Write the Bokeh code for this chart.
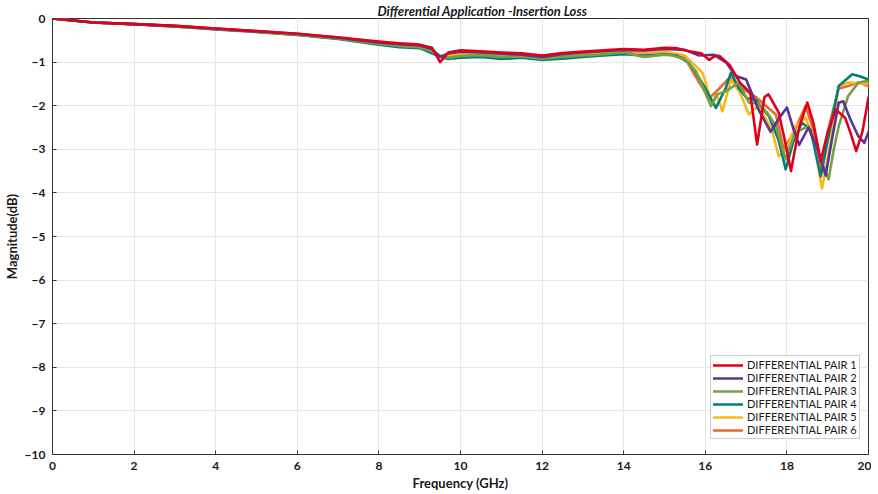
from bokeh.plotting import figure
from bokeh.models import Range1d, Legend, LegendItem, SingleIntervalTicker
from bokeh.embed import file_html
from bokeh.resources import INLINE

# ---------------- data ----------------
low_f = [0, 1, 2, 3, 4, 5, 6, 7, 8, 8.5, 9, 9.3, 9.5, 9.7, 10, 10.5, 11, 11.5, 12, 12.5, 13, 13.5, 14, 14.5]

pair1_low = [0, -0.09, -0.13, -0.17, -0.23, -0.29, -0.35, -0.43, -0.53, -0.57, -0.60, -0.67, -1.00, -0.78, -0.73, -0.75, -0.78, -0.80, -0.85, -0.79, -0.76, -0.73, -0.70, -0.72]
pair2_low = [0, -0.09, -0.13, -0.17, -0.23, -0.29, -0.35, -0.44, -0.55, -0.59, -0.62, -0.70, -0.88, -0.80, -0.76, -0.78, -0.81, -0.83, -0.88, -0.82, -0.78, -0.75, -0.72, -0.73]
pair3_low = [0, -0.09, -0.13, -0.18, -0.24, -0.30, -0.37, -0.46, -0.58, -0.63, -0.66, -0.76, -0.86, -0.90, -0.86, -0.84, -0.88, -0.87, -0.92, -0.88, -0.85, -0.82, -0.78, -0.88]
pair4_low = [0, -0.09, -0.13, -0.18, -0.25, -0.31, -0.38, -0.47, -0.60, -0.66, -0.68, -0.80, -0.88, -0.93, -0.90, -0.88, -0.93, -0.90, -0.95, -0.92, -0.88, -0.85, -0.82, -0.85]
pair5_low = [0, -0.09, -0.13, -0.17, -0.24, -0.30, -0.36, -0.45, -0.57, -0.61, -0.64, -0.73, -0.85, -0.84, -0.81, -0.81, -0.85, -0.84, -0.90, -0.85, -0.81, -0.78, -0.74, -0.76]
pair6_low = [0, -0.09, -0.13, -0.18, -0.24, -0.30, -0.37, -0.46, -0.58, -0.62, -0.65, -0.75, -0.86, -0.87, -0.84, -0.83, -0.87, -0.86, -0.91, -0.87, -0.83, -0.80, -0.76, -0.78]

pair1_hf = [15.0, 15.3, 15.6, 15.9, 16.1, 16.25, 16.35, 16.6, 16.85, 17.1, 17.27, 17.45, 17.55, 17.8, 17.95, 18.1, 18.3, 18.5, 18.65, 18.83, 19.0, 19.2, 19.43, 19.55, 19.7, 19.85, 20.0]
pair1_hv = [-0.67, -0.68, -0.75, -0.80, -0.95, -0.85, -0.86, -1.07, -1.47, -1.70, -2.89, -1.80, -1.74, -2.16, -2.80, -3.50, -2.50, -1.93, -2.40, -3.27, -2.60, -2.09, -2.28, -2.60, -3.04, -2.60, -1.81]

pair2_hf = [15.0, 15.5, 15.85, 16.2, 16.5, 16.75, 17.0, 17.3, 17.6, 17.8, 18.0, 18.15, 18.3, 18.53, 18.75, 18.95, 19.1, 19.27, 19.38, 19.55, 19.75, 19.9, 20.0]
pair2_hv = [-0.70, -0.72, -0.85, -0.83, -1.00, -1.32, -1.40, -2.08, -2.60, -2.30, -2.04, -2.50, -2.90, -2.50, -3.00, -3.60, -2.80, -1.93, -1.90, -2.30, -2.70, -2.85, -2.60]

pair3_hf = [15.0, 15.2, 15.5, 15.77, 16.0, 16.14, 16.29, 16.5, 16.82, 17.07, 17.31, 17.55, 17.73, 17.97, 18.2, 18.53, 18.83, 19.02, 19.15, 19.27, 19.5, 19.75, 20.0]
pair3_hv = [-0.83, -0.85, -0.94, -1.21, -1.70, -2.01, -1.74, -1.67, -1.47, -1.93, -1.95, -2.20, -2.47, -3.23, -2.62, -2.47, -3.23, -3.69, -3.00, -2.47, -1.78, -1.47, -1.43]

pair4_hf = [15.0, 15.3, 15.6, 15.77, 16.0, 16.26, 16.5, 16.63, 16.82, 17.02, 17.24, 17.56, 17.8, 17.97, 18.15, 18.37, 18.58, 18.83, 19.07, 19.27, 19.6, 19.8, 20.0]
pair4_hv = [-0.82, -0.85, -1.02, -1.24, -1.60, -2.05, -1.60, -1.24, -1.60, -1.83, -1.87, -2.24, -2.80, -3.46, -2.85, -2.39, -2.55, -3.62, -2.47, -1.55, -1.28, -1.33, -1.40]

pair5_hf = [15.0, 15.5, 15.93, 16.17, 16.28, 16.42, 16.63, 16.85, 17.07, 17.3, 17.63, 17.8, 18.0, 18.2, 18.46, 18.66, 18.86, 19.07, 19.27, 19.5, 20.0]
pair5_hv = [-0.75, -0.85, -1.24, -1.97, -1.74, -2.13, -1.40, -1.70, -2.20, -2.00, -2.55, -3.16, -3.00, -2.47, -2.28, -2.85, -3.90, -2.85, -1.55, -1.47, -1.50]

pair6_hf = [15.0, 15.5, 15.85, 16.1, 16.35, 16.6, 16.95, 17.24, 17.48, 17.73, 17.92, 18.12, 18.46, 18.66, 18.85, 19.05, 19.27, 19.5, 19.75, 20.0]
pair6_hv = [-0.76, -0.90, -1.47, -1.83, -1.60, -1.35, -1.63, -1.80, -2.00, -2.20, -3.00, -2.70, -2.01, -2.60, -3.46, -2.40, -1.61, -1.55, -1.47, -1.55]

names = ["DIFFERENTIAL PAIR 1", "DIFFERENTIAL PAIR 2", "DIFFERENTIAL PAIR 3",
         "DIFFERENTIAL PAIR 4", "DIFFERENTIAL PAIR 5", "DIFFERENTIAL PAIR 6"]
colors = ["#E0001B", "#5A3590", "#77A045", "#007F80", "#FDB714", "#EC6A2C"]

series = [
    (low_f + pair1_hf, pair1_low + pair1_hv),
    (low_f + pair2_hf, pair2_low + pair2_hv),
    (low_f + pair3_hf, pair3_low + pair3_hv),
    (low_f + pair4_hf, pair4_low + pair4_hv),
    (low_f + pair5_hf, pair5_low + pair5_hv),
    (low_f + pair6_hf, pair6_low + pair6_hv),
]

FONT = "Lato"

p = figure(frame_width=816, frame_height=436, output_backend="svg", toolbar_location=None,
           x_range=Range1d(0, 20), y_range=Range1d(-10, 0),
           title="Differential Application -Insertion Loss",
           min_border_left=43, min_border_right=3, min_border_top=0, min_border_bottom=0)
p.background_fill_color = "white"
p.border_fill_color = "white"
p.outline_line_color = "#333333"
p.outline_line_width = 1

p.title.align = "left"
p.title.offset = 325
p.title.text_font = FONT
p.title.text_font_style = "bold italic"
p.title.text_font_size = "13px"
p.title.text_color = "#1a1a1a"
p.title.standoff = 0

# grid
p.xgrid.ticker = SingleIntervalTicker(interval=2)
p.ygrid.ticker = SingleIntervalTicker(interval=1)
for g in (p.xgrid, p.ygrid):
    g.grid_line_color = "#E6E6E6"
    g.grid_line_width = 1

# axes
p.xaxis.ticker = SingleIntervalTicker(interval=2)
p.yaxis.ticker = SingleIntervalTicker(interval=1)
for ax in (p.xaxis[0], p.yaxis[0]):
    ax.major_tick_in = 4
    ax.major_tick_out = 0
    ax.minor_tick_line_color = None
    ax.axis_line_color = "#333333"
    ax.major_tick_line_color = "#333333"
    ax.major_label_text_font = FONT
    ax.major_label_text_font_style = "bold"
    ax.major_label_text_font_size = "12px"
    ax.major_label_text_color = "#1a1a1a"
    ax.axis_label_text_font = FONT
    ax.axis_label_text_font_style = "bold"
    ax.axis_label_text_font_size = "13px"
    ax.axis_label_text_color = "#1a1a1a"
    ax.major_label_standoff = 3
    ax.axis_label_standoff = 2
p.xaxis.axis_label = "Frequency (GHz)"
p.yaxis.axis_label = "Magnitude(dB)"

# lines (draw pair 1 last so it sits on top)
renderers = [None] * 6
for i in reversed(range(6)):
    xs, ys = series[i]
    renderers[i] = p.line(xs, ys, line_color=colors[i], line_width=2.6,
                          line_join="round", line_cap="round")

legend = Legend(items=[LegendItem(label=names[i], renderers=[renderers[i]]) for i in range(6)],
                location=(658, 15))
legend.label_text_font = FONT
legend.label_text_font_size = "11px"
legend.label_text_color = "#1a1a1a"
legend.glyph_width = 30
legend.glyph_height = 10
legend.label_height = 10
legend.label_standoff = 4
legend.spacing = 0
legend.padding = 2
legend.margin = 0
legend.border_line_color = "#999999"
legend.border_line_width = 1
legend.background_fill_alpha = 1
p.add_layout(legend, "center")

open("out.html", "w").write(file_html(p, INLINE))
